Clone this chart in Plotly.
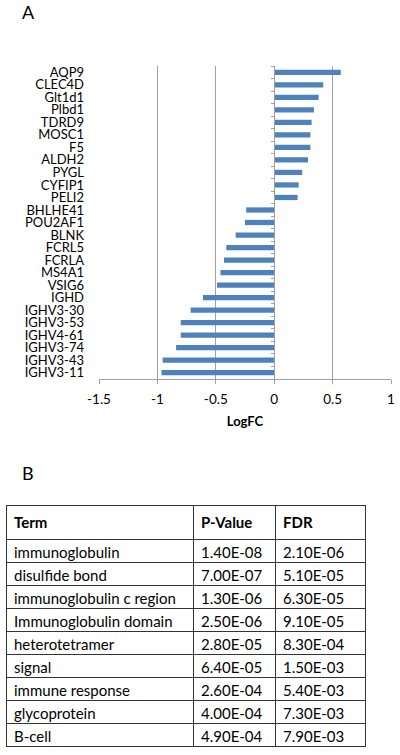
import plotly.graph_objects as go

genes = ["AQP9", "CLEC4D", "Glt1d1", "Plbd1", "TDRD9", "MOSC1", "F5", "ALDH2", "PYGL",
         "CYFIP1", "PELI2", "BHLHE41", "POU2AF1", "BLNK", "FCRL5", "FCRLA", "MS4A1",
         "VSIG6", "IGHD", "IGHV3-30", "IGHV3-53", "IGHV4-61", "IGHV3-74", "IGHV3-43", "IGHV3-11"]
logfc = [0.57, 0.42, 0.38, 0.34, 0.32, 0.31, 0.31, 0.29, 0.24,
         0.21, 0.20, -0.24, -0.25, -0.33, -0.41, -0.43, -0.46,
         -0.49, -0.61, -0.715, -0.80, -0.80, -0.84, -0.955, -0.965]
x_ticks = [-1.5, -1, -0.5, 0, 0.5, 1]
x_tick_labels = ["-1.5", "-1", "-0.5", "0", "0.5", "1"]

terms = ["immunoglobulin", "disulfide bond", "immunoglobulin c region", "Immunoglobulin domain",
         "heterotetramer", "signal", "immune response", "glycoprotein", "B-cell"]
pvalues = ["1.40E-08", "7.00E-07", "1.30E-06", "2.50E-06", "2.80E-05", "6.40E-05",
           "2.60E-04", "4.00E-04", "4.90E-04"]
fdr = ["2.10E-06", "5.10E-05", "6.30E-05", "9.10E-05", "8.30E-04", "1.50E-03",
       "5.40E-03", "7.30E-03", "7.90E-03"]
headers = ["Term", "P-Value", "FDR"]

W, H = 400, 755
FONT = "Lato"
n = len(genes)

fig = go.Figure()
fig.add_trace(go.Bar(x=logfc, y=genes, orientation="h", width=0.42,
                     marker=dict(color="#4F81BD", line=dict(width=0)),
                     showlegend=False))
fig.add_trace(go.Scatter(x=logfc, y=genes, yaxis="y2", mode="markers",
                         marker=dict(opacity=0), showlegend=False, hoverinfo="skip"))

xdom = [99 / W, 391 / W]
ydom = [1 - 379 / H, 1 - 66 / H]
zero_pos = xdom[0] + (0 - (-1.5)) / 2.5 * (xdom[1] - xdom[0])

fig.update_layout(
    width=W, height=H,
    margin=dict(l=0, r=0, t=0, b=0, autoexpand=False),
    paper_bgcolor="white", plot_bgcolor="white",
    font=dict(family=FONT, color="#000000"),
    xaxis=dict(domain=xdom, range=[-1.5, 1], tickvals=x_ticks, ticktext=x_tick_labels,
               showgrid=True, gridcolor="#A0A0A0", gridwidth=1, zeroline=False,
               showline=True, linecolor="#A0A0A0", linewidth=1,
               ticks="outside", ticklen=4, tickcolor="#A0A0A0",
               ticklabelstandoff=4,
               tickfont=dict(size=13.5, family=FONT), automargin=False,
               title=dict(text="<b>LogFC</b>", font=dict(size=13, family=FONT), standoff=10),
               anchor="y"),
    yaxis=dict(domain=ydom, type="category", tickmode="array", tickvals=genes, ticktext=genes,
               range=[n - 0.5, -0.5], showgrid=False, showline=False, zeroline=False,
               ticks="", tickfont=dict(size=13, family=FONT), ticklabelstandoff=14,
               automargin=False, anchor="x"),
    yaxis2=dict(domain=ydom, overlaying="y", anchor="free", position=zero_pos,
                type="category", tickmode="array", tickvals=genes,
                range=[n - 0.5, -0.5], showgrid=False, zeroline=False,
                showline=True, linecolor="#A0A0A0", linewidth=1,
                ticks="outside", ticklen=3, tickcolor="#A0A0A0", tickson="boundaries",
                showticklabels=False, automargin=False),
)

fig.add_trace(go.Table(
    domain=dict(x=[6 / W, 365 / W], y=[0.0, 1 - 505 / H]),
    columnwidth=[187, 82, 90],
    header=dict(values=["<b>" + h + "</b>" for h in headers], height=23, align="left",
                fill_color="white", line=dict(color="#333333", width=1),
                font=dict(size=15, family=FONT, color="#000000")),
    cells=dict(values=[terms, pvalues, fdr], height=23, align="left",
               fill_color="white", line=dict(color="#333333", width=1),
               font=dict(size=15, family=FONT, color="#000000")),
))

fig.add_annotation(text="A", x=20 / W, y=1 - 12 / H, xref="paper", yref="paper",
                   showarrow=False, xanchor="left", yanchor="middle",
                   font=dict(size=18, family=FONT, color="#000000"))
fig.add_annotation(text="B", x=20 / W, y=1 - 473 / H, xref="paper", yref="paper",
                   showarrow=False, xanchor="left", yanchor="middle",
                   font=dict(size=18, family=FONT, color="#000000"))

fig.write_html("out.html", config={"displayModeBar": False},
               post_script="document.body.style.margin='0';document.body.style.overflow='hidden';")
